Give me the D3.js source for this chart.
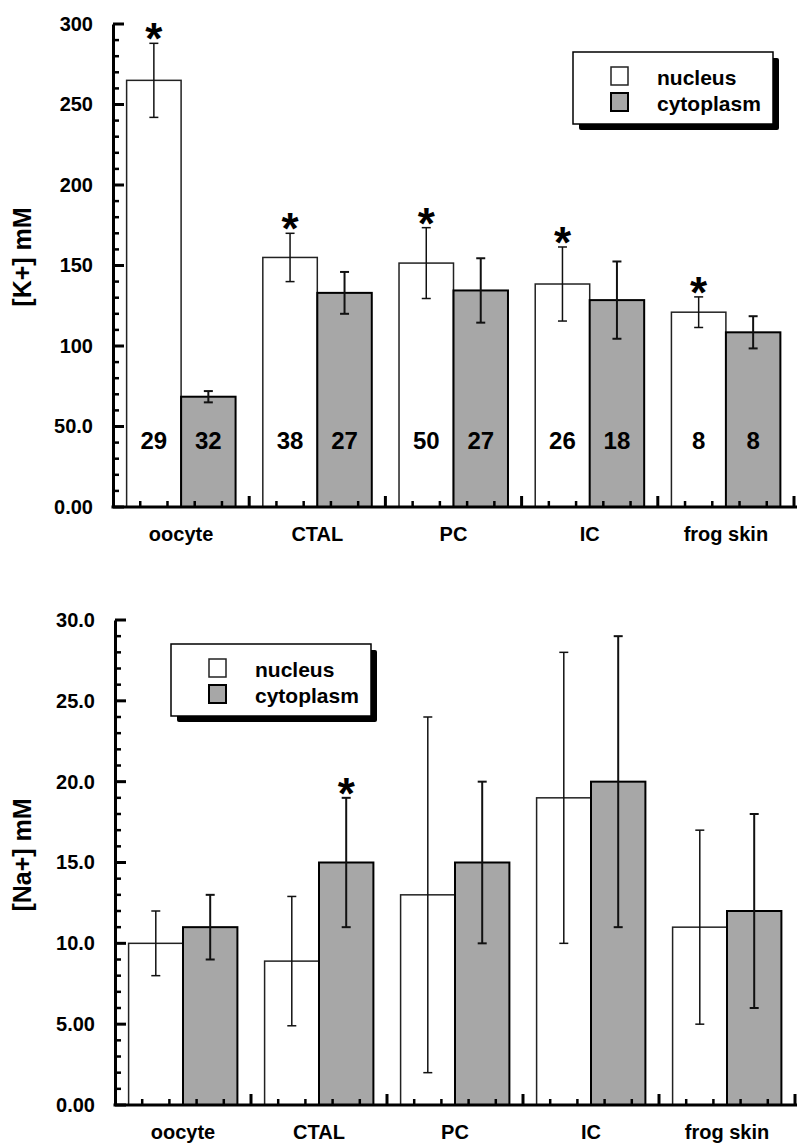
<!DOCTYPE html>
<html>
  <head>
    <meta charset="utf-8">
    <title>[K+] and [Na+] in nucleus and cytoplasm</title>
    <style>
      body { margin: 0; background: white; }
      text { font-family: "Liberation Sans", Arial, sans-serif; font-weight: bold; fill: black; }
      .axis path { stroke: black; stroke-width: 3; fill: none; }
      .tick-mark { stroke: black; stroke-width: 3; }
      .tick-mark.minor { stroke-width: 2.5; }
      .bar.nucleus { fill: white; stroke: #222; stroke-width: 1.5; }
      .bar.cytoplasm { fill: #a7a7a7; stroke: black; stroke-width: 2; }
      .err { stroke: #111; fill: none; }
      .err.nucleus { stroke-width: 1.5; }
      .err.cytoplasm { stroke-width: 2; }
    </style>
  </head>
  <body>
    <svg width="797" height="1144"></svg>
    <script src="https://cdn.jsdelivr.net/npm/d3@7"></script>
    <script>
      const cells = ["oocyte", "CTAL", "PC", "IC", "frog skin"];
      const series = ["nucleus", "cytoplasm"];

      // [K+] panel
      const kNucleus = [265, 155, 151.5, 138.5, 121];
      const kNucleusErr = [23, 15, 22, 23, 9.5];
      const kCytoplasm = [68.5, 133, 134.5, 128.5, 108.5];
      const kCytoplasmErr = [3.5, 13, 20, 24, 10];
      const kNucleusN = [29, 38, 50, 26, 8];
      const kCytoplasmN = [32, 27, 27, 18, 8];
      const kNucleusStar = [true, true, true, true, true];
      const kCytoplasmStar = [false, false, false, false, false];
      const kTicks = [0, 50, 100, 150, 200, 250, 300];
      const kTickLabels = ["0.00", "50.0", "100", "150", "200", "250", "300"];

      // [Na+] panel
      const naNucleus = [10, 8.9, 13, 19, 11];
      const naNucleusErr = [2, 4, 11, 9, 6];
      const naCytoplasm = [11, 15, 15, 20, 12];
      const naCytoplasmErr = [2, 4, 5, 9, 6];
      const naNucleusStar = [false, false, false, false, false];
      const naCytoplasmStar = [false, true, false, false, false];
      const naTicks = [0, 5, 10, 15, 20, 25, 30];
      const naTickLabels = ["0.00", "5.00", "10.0", "15.0", "20.0", "25.0", "30.0"];

      const svg = d3.select("svg");
      const width = +svg.attr("width");

      function panel(opt) {
        const g = svg.append("g");
        const x0 = d3.scaleBand().domain(cells).range([opt.left, opt.right]);
        const x1 = d3.scaleBand().domain(series).range([0, x0.bandwidth()]).paddingOuter(0.25);
        const y = d3.scaleLinear().domain([0, opt.max]).range([opt.bottom, opt.top]);

        const rows = cells.flatMap((c, i) => series.map((s, j) => ({
          cell: c, s: s,
          v: opt.values[j][i], e: opt.errs[j][i],
          n: opt.n ? opt.n[j][i] : null,
          star: opt.stars[j][i]
        })));
        const cx = d => x0(d.cell) + x1(d.s) + x1.bandwidth() / 2;

        g.selectAll("rect.bar")
          .data(rows)
          .join("rect")
            .attr("class", d => "bar " + d.s)
            .attr("x", d => x0(d.cell) + x1(d.s))
            .attr("width", x1.bandwidth())
            .attr("y", d => y(d.v))
            .attr("height", d => y(0) - y(d.v));

        const err = g.selectAll("g.err")
          .data(rows)
          .join("g")
            .attr("class", d => "err " + d.s);
        err.append("line")
          .attr("x1", cx).attr("x2", cx)
          .attr("y1", d => y(d.v - d.e)).attr("y2", d => y(d.v + d.e));
        [d => d.v - d.e, d => d.v + d.e].forEach(f => {
          err.append("line")
            .attr("x1", d => cx(d) - 4.5).attr("x2", d => cx(d) + 4.5)
            .attr("y1", d => y(f(d))).attr("y2", d => y(f(d)));
        });

        g.selectAll("text.star")
          .data(rows.filter(d => d.star))
          .join("text")
            .attr("class", "star")
            .attr("x", cx)
            .attr("y", d => y(d.v + d.e) + 11)
            .attr("text-anchor", "middle")
            .style("font-size", "44px")
            .text("*");

        if (opt.n) {
          g.selectAll("text.n")
            .data(rows)
            .join("text")
              .attr("class", "n")
              .attr("x", cx)
              .attr("y", y(0) - 58)
              .attr("text-anchor", "middle")
              .style("font-size", "24px")
              .text(d => d.n);
        }

        // y axis: line + labels from d3.axisLeft, inward ticks drawn from the scale
        g.append("g")
          .attr("class", "axis")
          .attr("transform", `translate(${opt.left},0)`)
          .call(d3.axisLeft(y).tickValues(opt.ticks)
            .tickFormat((d, i) => opt.tickLabels[i])
            .tickSize(0).tickPadding(20))
          .call(a => a.selectAll("text").style("font-size", "20px"));

        const yMarks = d3.range(0, opt.max + opt.minorStep / 2, opt.minorStep)
          .map(v => ({v: v, major: opt.ticks.some(t => Math.abs(t - v) < 1e-9)}));
        g.selectAll("line.ytick")
          .data(yMarks)
          .join("line")
            .attr("class", d => "ytick tick-mark" + (d.major ? "" : " minor"))
            .attr("x1", opt.left)
            .attr("x2", d => opt.left + (d.major ? 11 : 6))
            .attr("y1", d => y(d.v)).attr("y2", d => y(d.v));

        // x axis: group boundaries and fifths
        const xl = d3.scaleLinear().domain([0, cells.length]).range([opt.left, opt.right]);
        const xMarks = d3.range(1, cells.length * 5 + 1)
          .map(k => ({v: k / 5, major: k % 5 === 0}));
        g.selectAll("line.xtick")
          .data(xMarks)
          .join("line")
            .attr("class", d => "xtick tick-mark" + (d.major ? "" : " minor"))
            .attr("x1", d => xl(d.v)).attr("x2", d => xl(d.v))
            .attr("y1", y(0))
            .attr("y2", d => y(0) - (d.major ? 11 : 6));
        g.append("line")
          .attr("class", "tick-mark")
          .attr("x1", opt.left - 1.5).attr("x2", width)
          .attr("y1", y(0)).attr("y2", y(0));
        g.append("g")
          .attr("transform", `translate(0,${y(0)})`)
          .call(d3.axisBottom(x0).tickSize(0).tickPadding(20))
          .call(a => a.select(".domain").remove())
          .call(a => a.selectAll("text").style("font-size", "20px"));

        g.append("text")
          .attr("transform", `translate(31,${opt.labelY}) rotate(-90)`)
          .attr("text-anchor", "middle")
          .style("font-size", "25px")
          .text(opt.label);

        legend(opt.legendX, opt.legendY);
      }

      function legend(lx, ly) {
        const lg = svg.append("g").attr("transform", `translate(${lx},${ly})`);
        lg.append("rect")
          .attr("x", 6).attr("y", 6).attr("width", 200).attr("height", 72)
          .attr("rx", 2)
          .style("fill", "black");
        lg.append("rect")
          .attr("width", 200).attr("height", 72)
          .style("fill", "white").style("stroke", "black").style("stroke-width", 1.5);
        series.forEach((s, i) => {
          lg.append("rect")
            .attr("class", "bar " + s)
            .attr("x", 38).attr("y", 15 + i * 26)
            .attr("width", 17).attr("height", 18);
          lg.append("text")
            .attr("x", 84).attr("y", 33 + i * 26)
            .style("font-size", "21px")
            .text(s);
        });
      }

      panel({
        left: 113, right: 794, top: 24, bottom: 507, max: 300, minorStep: 10,
        values: [kNucleus, kCytoplasm], errs: [kNucleusErr, kCytoplasmErr],
        n: [kNucleusN, kCytoplasmN], stars: [kNucleusStar, kCytoplasmStar],
        ticks: kTicks, tickLabels: kTickLabels,
        label: "[K+] mM", labelY: 257, legendX: 573, legendY: 52
      });

      panel({
        left: 115, right: 795, top: 620, bottom: 1105, max: 30, minorStep: 1,
        values: [naNucleus, naCytoplasm], errs: [naNucleusErr, naCytoplasmErr],
        n: null, stars: [naNucleusStar, naCytoplasmStar],
        ticks: naTicks, tickLabels: naTickLabels,
        label: "[Na+] mM", labelY: 855, legendX: 171, legendY: 644
      });
    </script>
  </body>
</html>
